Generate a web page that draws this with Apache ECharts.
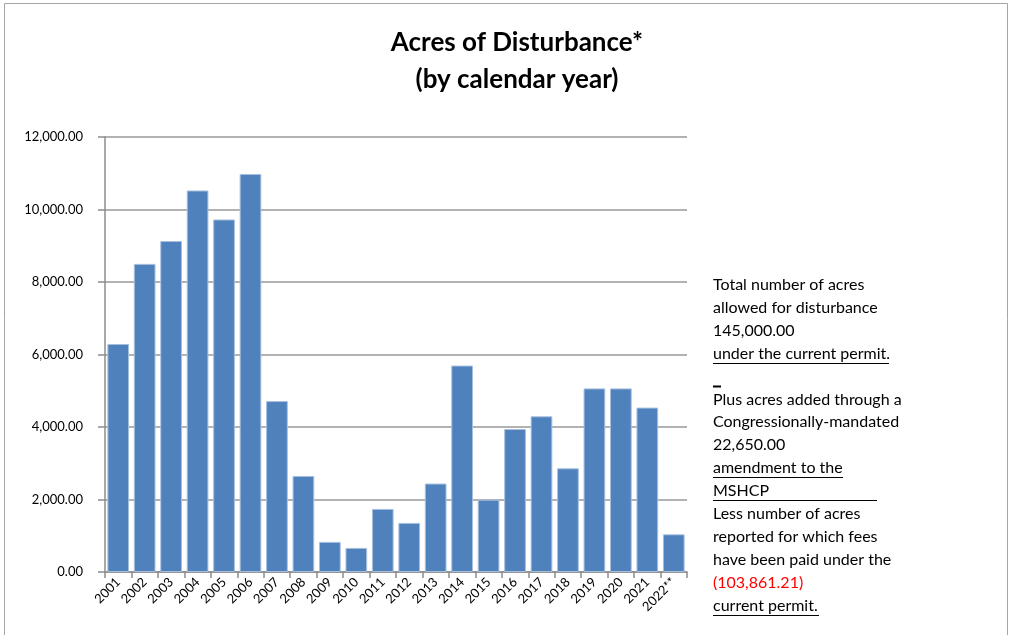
<!DOCTYPE html>
<html>
<head>
<meta charset="utf-8">
<script src="https://cdn.jsdelivr.net/npm/echarts@6/dist/echarts.min.js"></script>
<style>
html,body{margin:0;padding:0;background:#fff;}
#chart{width:1013px;height:635px;}
</style>
</head>
<body>
<div id="chart"></div>
<script>
var years = ['2001','2002','2003','2004','2005','2006','2007','2008','2009','2010','2011','2012','2013','2014','2015','2016','2017','2018','2019','2020','2021','2022**'];
var acres = [6290, 8500, 9130, 10525, 9725, 10980, 4715, 2650, 830, 665, 1740, 1355, 2440, 5695, 1995, 3945, 4295, 2860, 5065, 5065, 4535, 1040];
var titleLines = ['Acres of Disturbance*', '(by calendar year)'];
var noteLines = [
  'Total number of acres',
  'allowed for disturbance',
  '145,000.00',
  'under the current permit.',
  '_',
  'Plus acres added through a',
  'Congressionally-mandated',
  '22,650.00',
  'amendment to the',
  'MSHCP',
  'Less number of acres',
  'reported for which fees',
  'have been paid under the',
  '(103,861.21)',
  'current permit.'
];

var FONT = 'Lato, "Open Sans", sans-serif';
function fmt(v){
  var s = Math.round(v).toString().replace(/\B(?=(\d{3})+(?!\d))/g, ',');
  return s + '.00';
}

var chart = echarts.init(document.getElementById('chart'));

var noteY = [285, 308, 331, 354, 377, 400, 422, 445, 468, 491, 514, 537, 560, 583, 606];
var underlineW = {3: 176, 4: 8, 8: 130, 9: 164, 14: 106};
var graphics = [
  {type:'rect', shape:{x:4.5, y:3.5, width:1003, height:640}, style:{fill:'none', stroke:'#a6a6a6', lineWidth:1}, silent:true}
];
noteLines.forEach(function(t, i){
  if (t !== '_') {
    graphics.push({type:'text', x:713, y:noteY[i], style:{text:t, font:'16px ' + FONT, fill: i === 13 ? '#ff0000' : '#000', textVerticalAlign:'middle', textAlign:'left'}});
  }
  if (underlineW[i]) {
    graphics.push({type:'line', shape:{x1:713, y1:noteY[i]+9.5, x2:713+underlineW[i], y2:noteY[i]+9.5}, style:{stroke:'#000', lineWidth: i===4 ? 2 : 1}});
  }
});

var option = {
  backgroundColor:'#fff',
  animation:false,
  title:{
    text: titleLines.join('\n'),
    left: 512, top: 19, textAlign:'center',
    textStyle:{fontFamily:FONT, fontSize:26, fontWeight:'bold', color:'#000', lineHeight:37}
  },
  grid:{left:105, right:326, top:137, bottom:63, containLabel:false},
  xAxis:{
    type:'category',
    data: years,
    axisLine:{show:true, lineStyle:{color:'#8c8c8c', width:1.5}},
    axisTick:{show:true, alignWithLabel:false, length:6, lineStyle:{color:'#8c8c8c', width:1.5}},
    axisLabel:{rotate:45, fontFamily:FONT, fontSize:13, color:'#000', margin:8, interval:0}
  },
  yAxis:{
    type:'value', min:0, max:12000, interval:2000,
    axisLine:{show:true, lineStyle:{color:'#8c8c8c', width:1.5}},
    axisTick:{show:true, length:7, lineStyle:{color:'#8c8c8c', width:1.5}},
    splitLine:{show:true, lineStyle:{color:'#999999', width:1.5}},
    axisLabel:{formatter: fmt, fontFamily:FONT, fontSize:13, color:'#000', margin:22}
  },
  series:[{
    type:'bar',
    data: acres,
    barCategoryGap:'18%',
    itemStyle:{color:'#4f81bd', borderColor:'#a7bfdd', borderWidth:1}
  }],
  graphic: graphics
};
chart.setOption(option);
</script>
</body>
</html>
